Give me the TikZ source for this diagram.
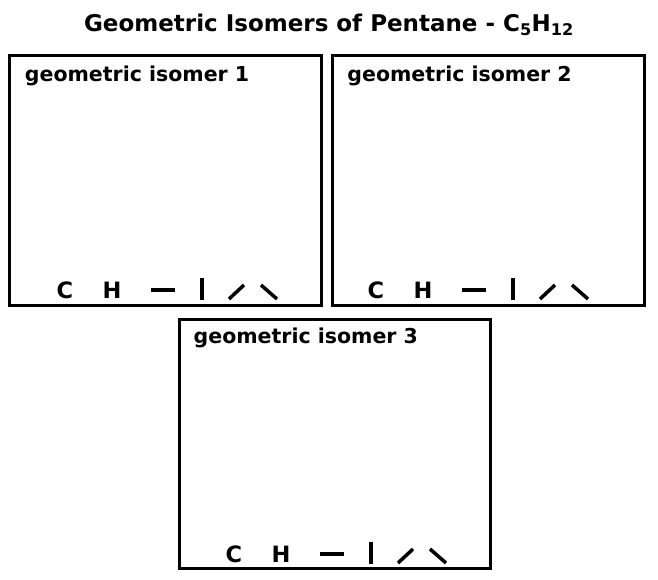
\documentclass[tikz,border=0pt]{standalone}
\usepackage{fontspec}
\setmainfont{DejaVu Sans}
\usetikzlibrary{positioning}

\tikzset{
  isobox/.style={draw,line width=3pt,minimum width=311.5pt,minimum height=249pt,inner sep=0pt},
  isolabel/.style={font=\fontsize{20.5}{22}\selectfont\bfseries,anchor=base west,inner sep=0pt},
  atom/.style={font=\fontsize{22.5}{24}\selectfont\bfseries,anchor=base,inner sep=0pt},
  bond/.style={line width=3.5pt}
}

\begin{document}
\begin{tikzpicture}[x=1pt,y=-1pt]
        \useasboundingbox (0,0) rectangle (658,580);

        \node[font=\fontsize{23}{26}\selectfont\bfseries,anchor=base,inner sep=0pt] (title) at (329,32)
        {Geometric Isomers of Pentane - C\textsubscript{5}H\textsubscript{12}};

        \node[isobox] (iso1) at (165.5,180.5) {};
        \node[isobox] (iso2) at (488.5,180.5) {};
        \node[isobox] (iso3) at (334.75,444) {};

        \node[isolabel] (lab1) at ([xshift=16.5pt,yshift=-27pt]iso1.north west) {geometric isomer 1};
        \node[isolabel] (lab2) at ([xshift=16pt,yshift=-27pt]iso2.north west) {geometric isomer 2};
        \node[isolabel] (lab3) at ([xshift=16pt,yshift=-25pt]iso3.north west) {geometric isomer 3};

        \foreach \n/\px/\py in {1/65/298, 2/376/298, 3/234/562} {
          \begin{scope}[shift={(\px,\py)}]
            \node[atom] (c\n) at (0,0) {C};
            \node[atom] (h\n) at (47,0) {H};
            \draw[bond] (86,-8)--(110,-8);
            \draw[bond] (137,-20)--(137,2);
            \draw[bond] (164,1)--(179,-13);
            \draw[bond] (196,-13)--(212,1);
          \end{scope}
        }
    \end{tikzpicture}
\end{document}
